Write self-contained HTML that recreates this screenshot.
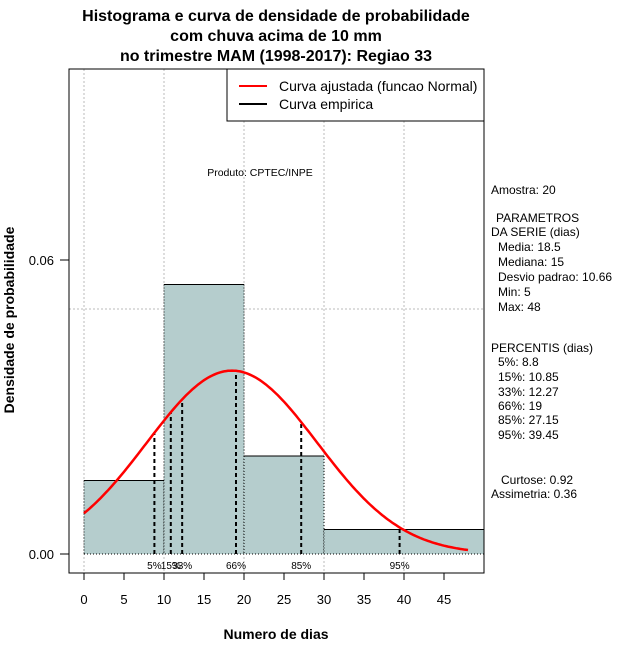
<!DOCTYPE html>
<html><head><meta charset="utf-8"><style>
body{margin:0;background:#fff;}
svg{display:block;font-family:"Liberation Sans",sans-serif;}
</style></head><body>
<svg id="c" width="640" height="660" xmlns="http://www.w3.org/2000/svg">
<rect width="640" height="660" fill="#fff"/>
<g font-weight="bold" font-size="16" text-anchor="middle">
<text x="276" y="21">Histograma e curva de densidade de probabilidade</text>
<text x="276" y="41">com chuva acima de 10 mm</text>
<text x="276" y="61">no trimestre MAM (1998-2017): Regiao 33</text>
</g>
<g id="grid"></g>
<g id="bars"></g>
<g id="pct"></g>
<path id="curve" fill="none" stroke="#ff0000" stroke-width="2.5"/>
<rect x="69" y="69" width="415" height="504" fill="none" stroke="#000"/>
<g id="axes" font-size="13"></g>
<text x="276" y="639" font-size="14" font-weight="bold" text-anchor="middle">Numero de dias</text>
<text transform="translate(14,320) rotate(-90)" font-size="14" font-weight="bold" text-anchor="middle">Densidade de probabilidade</text>
<text x="260" y="176" font-size="10.5" text-anchor="middle">Produto: CPTEC/INPE</text>
<g>
<rect x="227" y="69" width="257" height="52" fill="#fff" stroke="#000"/>
<line x1="239" y1="86" x2="267" y2="86" stroke="#ff0000" stroke-width="2"/>
<text x="279" y="91" font-size="14">Curva ajustada (funcao Normal)</text>
<line x1="239" y1="104" x2="267" y2="104" stroke="#000" stroke-width="2"/>
<text x="279" y="109" font-size="14">Curva empirica</text>
</g>
<g font-size="12">
<text x="491" y="194">Amostra: 20</text>
<text x="496" y="222">PARAMETROS</text>
<text x="491" y="236">DA SERIE (dias)</text>
<text x="498" y="251">Media: 18.5</text>
<text x="498" y="266">Mediana: 15</text>
<text x="498" y="281">Desvio padrao: 10.66</text>
<text x="498" y="296">Min: 5</text>
<text x="498" y="311">Max: 48</text>
<text x="491" y="352">PERCENTIS (dias)</text>
<text x="498" y="366">5%: 8.8</text>
<text x="498" y="381">15%: 10.85</text>
<text x="498" y="396">33%: 12.27</text>
<text x="498" y="410">66%: 19</text>
<text x="498" y="424">85%: 27.15</text>
<text x="498" y="439">95%: 39.45</text>
<text x="501" y="484">Curtose: 0.92</text>
<text x="491" y="498">Assimetria: 0.36</text>
</g>
</svg>
<script>
const binEdges=[0,10,20,30,50];
const binDensity=[0.015,0.055,0.02,0.005];
const pctLabels=["5%","15%","33%","66%","85%","95%"];
const pctValues=[8.8,10.85,12.27,19,27.15,39.45];
const xTicks=[0,5,10,15,20,25,30,35,40,45];
const yTicks=[0.00,0.06];
const meanVal=18.5, sdVal=10.66, minVal=0, maxVal=48;
const NS="http://www.w3.org/2000/svg";
const X=v=>84+v*8, Y=v=>554-v*4900;
function mk(t,a,p){const e=document.createElementNS(NS,t);for(const k in a)e.setAttribute(k,a[k]);document.getElementById(p).appendChild(e);return e;}
const dn=x=>Math.exp(-0.5*((x-meanVal)/sdVal)**2)/(sdVal*Math.sqrt(2*Math.PI));
[0,10,20,30,40].forEach(v=>{const l=mk('line',{x1:X(v),x2:X(v),y1:69,y2:573,stroke:'#bbb','stroke-dasharray':'2,2'},'grid');

});
const hg=mk('line',{x1:69,x2:484,y1:Y(0.05),y2:Y(0.05),stroke:'#bbb','stroke-dasharray':'2,2'},'grid');


binDensity.forEach((d,i)=>{const x0=X(binEdges[i]),x1=X(binEdges[i+1]);
const r=mk('rect',{x:x0,y:Y(d),width:x1-x0,height:Y(0)-Y(d),fill:'#b5cdcd'},'bars');


mk('line',{x1:x0,x2:x1,y1:Y(d),y2:Y(d),stroke:'#000'},'bars');
mk('line',{x1:x0,x2:x0,y1:Y(d),y2:Y(0),stroke:'#000','stroke-dasharray':'1,2'},'bars');
mk('line',{x1:x1,x2:x1,y1:Y(d),y2:Y(0),stroke:'#000','stroke-dasharray':'1,2'},'bars');});
mk('line',{x1:X(0),x2:X(50),y1:Y(0),y2:Y(0),stroke:'#000','stroke-dasharray':'1,2'},'bars');
pctValues.forEach((p,i)=>{const l=mk('line',{x1:X(p),x2:X(p),y1:Y(0),y2:Y(dn(p)),stroke:'#000','stroke-width':2,'stroke-dasharray':'4,3'},'pct');


const t=mk('text',{x:X(p),y:569,'font-size':10,'text-anchor':'middle'},'pct');t.textContent=pctLabels[i];

});
let d='';for(let x=minVal;x<=maxVal;x+=0.25)d+=(d?'L':'M')+X(x).toFixed(1)+','+Y(dn(x)).toFixed(1);
document.getElementById('curve').setAttribute('d',d);
xTicks.forEach(v=>{mk('line',{x1:X(v),x2:X(v),y1:573,y2:580,stroke:'#000'},'axes');
const t=mk('text',{x:X(v),y:604,'text-anchor':'middle'},'axes');t.textContent=v;

});
yTicks.forEach(v=>{mk('line',{x1:60,x2:69,y1:Y(v),y2:Y(v),stroke:'#000'},'axes');
const t=mk('text',{x:54,y:Y(v)+5,'text-anchor':'end'},'axes');t.textContent=v.toFixed(2);

});
</script>
</body></html>
